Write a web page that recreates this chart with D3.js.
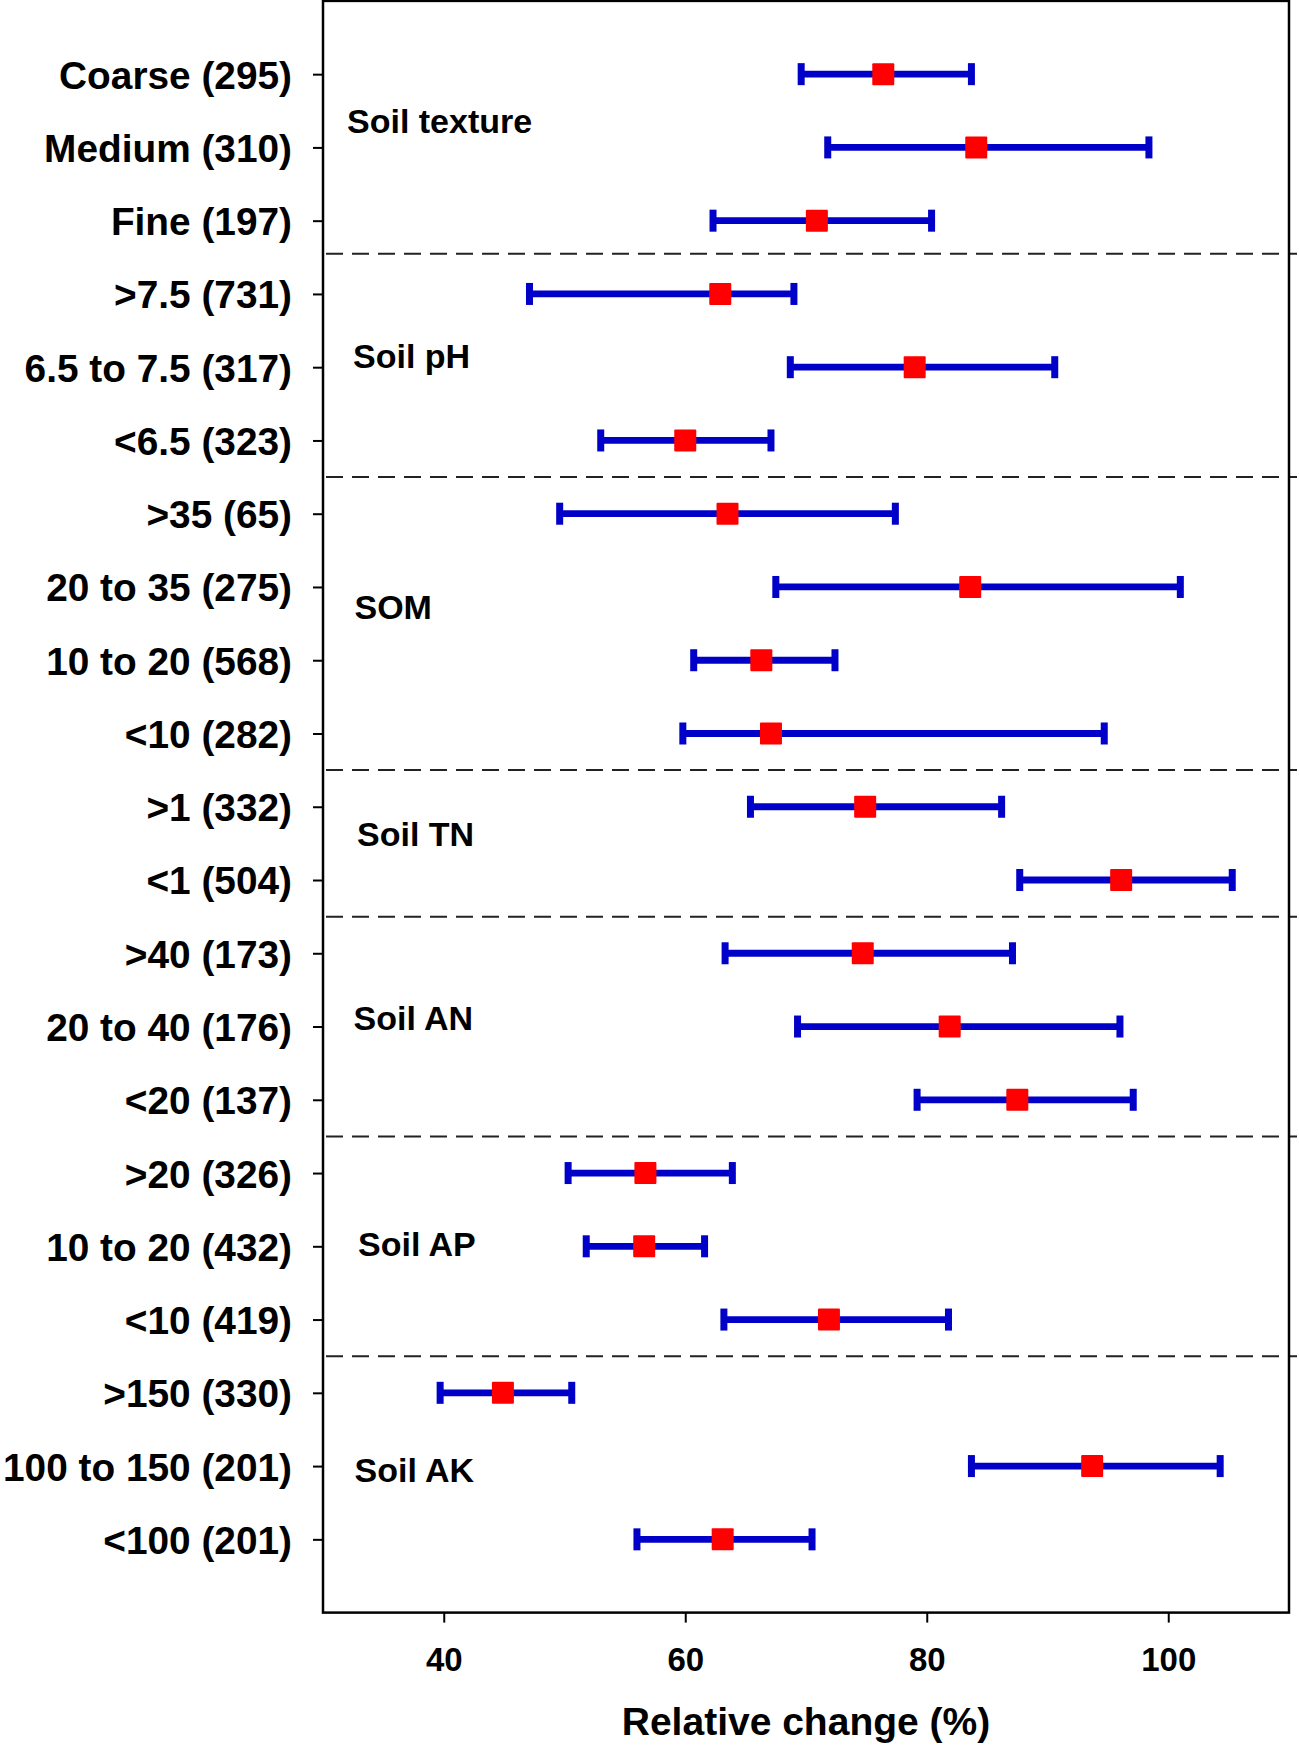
<!DOCTYPE html>
<html>
<head>
<meta charset="utf-8">
<script src="https://cdn.jsdelivr.net/npm/d3@7"></script>
<style>
  body { margin: 0; background: #ffffff; }
  svg { display: block; }
</style>
</head>
<body>
<svg id="chart" width="1299" height="1751"></svg>
<script>
// ---------------- DATA ----------------
const categories = [
  "Coarse (295)", "Medium (310)", "Fine (197)",
  ">7.5 (731)", "6.5 to 7.5 (317)", "<6.5 (323)",
  ">35 (65)", "20 to 35 (275)", "10 to 20 (568)", "<10 (282)",
  ">1 (332)", "<1 (504)",
  ">40 (173)", "20 to 40 (176)", "<20 (137)",
  ">20 (326)", "10 to 20 (432)", "<10 (419)",
  ">150 (330)", "100 to 150 (201)", "<100 (201)"
];
const means = [
  76.4, 84.1, 70.9,
  62.9, 79.0, 60.0,
  63.5, 83.6, 66.3, 67.1,
  74.9, 96.1,
  74.7, 81.9, 87.5,
  56.7, 56.6, 71.9,
  44.9, 93.7, 63.1
];
const lower = [
  69.6, 71.8, 62.3,
  47.1, 68.7, 53.0,
  49.6, 67.5, 60.7, 59.8,
  65.4, 87.7,
  63.3, 69.3, 79.2,
  50.3, 51.8, 63.2,
  39.7, 83.7, 56.0
];
const upper = [
  83.7, 98.4, 80.4,
  69.0, 90.6, 67.1,
  77.4, 101.0, 72.4, 94.7,
  86.2, 105.3,
  87.1, 96.0, 97.1,
  63.9, 61.6, 81.8,
  50.6, 104.3, 70.5
];
const groups = ["Soil texture", "Soil pH", "SOM", "Soil TN", "Soil AN", "Soil AP", "Soil AK"];
const groupSizes = [3, 3, 4, 2, 3, 3, 3];
const xTicks = [40, 60, 80, 100];
const xTitle = "Relative change (%)";

// ---------------- LAYOUT ----------------
const W = 1299, H = 1751;
const plotLeft = 323, plotRight = 1289, plotTop = 0.9, plotBottom = 1612.6;
const FONT = "'Liberation Sans', Arial, Helvetica, sans-serif";
const BLUE = "#0000C8", RED = "#FF0000";
// group label placement (row position, x offset from left border)
const groupLabelRow = [1.64, 4.84, 8.27, 11.37, 13.88, 16.97, 20.05];
const groupLabelDx = [24, 30, 31.5, 34, 30.5, 35, 31.5];

const svg = d3.select("#chart");
svg.append("rect").attr("width", W).attr("height", H).attr("fill", "#fff");

const x = d3.scaleLinear().domain([30, 110]).range([plotLeft, plotRight]);
const y = d3.scaleLinear().domain([0, categories.length + 1]).range([plotTop, plotBottom]);

const rows = categories.map((c, i) => ({
  label: c, row: i + 1, mean: means[i], lo: lower[i], hi: upper[i]
}));

// separators
let cum = 0;
const seps = [];
groupSizes.forEach((s, gi) => {
  cum += s;
  if (gi < groupSizes.length - 1) seps.push(cum + 0.5 + (gi === 0 ? -0.05 : 0));
});
svg.append("g").selectAll("line").data(seps).join("line")
  .attr("x1", plotLeft + 3).attr("x2", plotRight + 8)
  .attr("y1", d => y(d)).attr("y2", d => y(d))
  .attr("stroke", "#222").attr("stroke-width", 2)
  .attr("stroke-dasharray", "17,9");

// error bars
const bars = svg.append("g");
bars.selectAll("line.bar").data(rows).join("line").attr("class", "bar")
  .attr("x1", d => x(d.lo)).attr("x2", d => x(d.hi))
  .attr("y1", d => y(d.row)).attr("y2", d => y(d.row))
  .attr("stroke", BLUE).attr("stroke-width", 6.8);
const capW = 7, capH = 22;
bars.selectAll("rect.caplo").data(rows).join("rect").attr("class", "caplo")
  .attr("x", d => x(d.lo) - capW / 2).attr("y", d => y(d.row) - capH / 2)
  .attr("width", capW).attr("height", capH).attr("fill", BLUE);
bars.selectAll("rect.caphi").data(rows).join("rect").attr("class", "caphi")
  .attr("x", d => x(d.hi) - capW / 2).attr("y", d => y(d.row) - capH / 2)
  .attr("width", capW).attr("height", capH).attr("fill", BLUE);
const mk = 22;
bars.selectAll("rect.mean").data(rows).join("rect").attr("class", "mean")
  .attr("x", d => x(d.mean) - mk / 2).attr("y", d => y(d.row) - mk / 2)
  .attr("width", mk).attr("height", mk).attr("rx", 1).attr("fill", RED);

// group labels
svg.append("g").selectAll("text").data(groups).join("text")
  .attr("x", (d, i) => plotLeft + groupLabelDx[i])
  .attr("y", (d, i) => y(groupLabelRow[i]) + 0.358 * 34)
  .attr("font-family", FONT).attr("font-weight", "bold").attr("font-size", 34)
  .attr("fill", "#000").text(d => d);

// left axis
const yAxis = d3.axisLeft(y)
  .tickValues(rows.map(r => r.row))
  .tickFormat(v => categories[v - 1])
  .tickSize(10).tickSizeOuter(0).tickPadding(21);
const gy = svg.append("g").attr("transform", `translate(${plotLeft},0)`).call(yAxis);
gy.select(".domain").remove();
gy.selectAll(".tick line").attr("stroke", "#000").attr("stroke-width", 2);
gy.selectAll(".tick text")
  .attr("font-family", FONT).attr("font-weight", "bold").attr("font-size", 38.8)
  .attr("fill", "#000").attr("dy", "0.36em");

// bottom axis
const xAxis = d3.axisBottom(x).tickValues(xTicks).tickSize(10).tickSizeOuter(0).tickPadding(25);
const gx = svg.append("g").attr("transform", `translate(0,${plotBottom})`).call(xAxis);
gx.select(".domain").remove();
gx.selectAll(".tick line").attr("stroke", "#000").attr("stroke-width", 2);
gx.selectAll(".tick text")
  .attr("font-family", FONT).attr("font-weight", "bold").attr("font-size", 33)
  .attr("fill", "#000");

// frame
svg.append("rect")
  .attr("x", plotLeft).attr("y", plotTop)
  .attr("width", plotRight - plotLeft).attr("height", plotBottom - plotTop)
  .attr("fill", "none").attr("stroke", "#000").attr("stroke-width", 2.5);

// x title
svg.append("text")
  .attr("x", (plotLeft + plotRight) / 2).attr("y", 1735)
  .attr("text-anchor", "middle")
  .attr("font-family", FONT).attr("font-weight", "bold").attr("font-size", 39)
  .attr("fill", "#000").text(xTitle);
</script>
</body>
</html>
